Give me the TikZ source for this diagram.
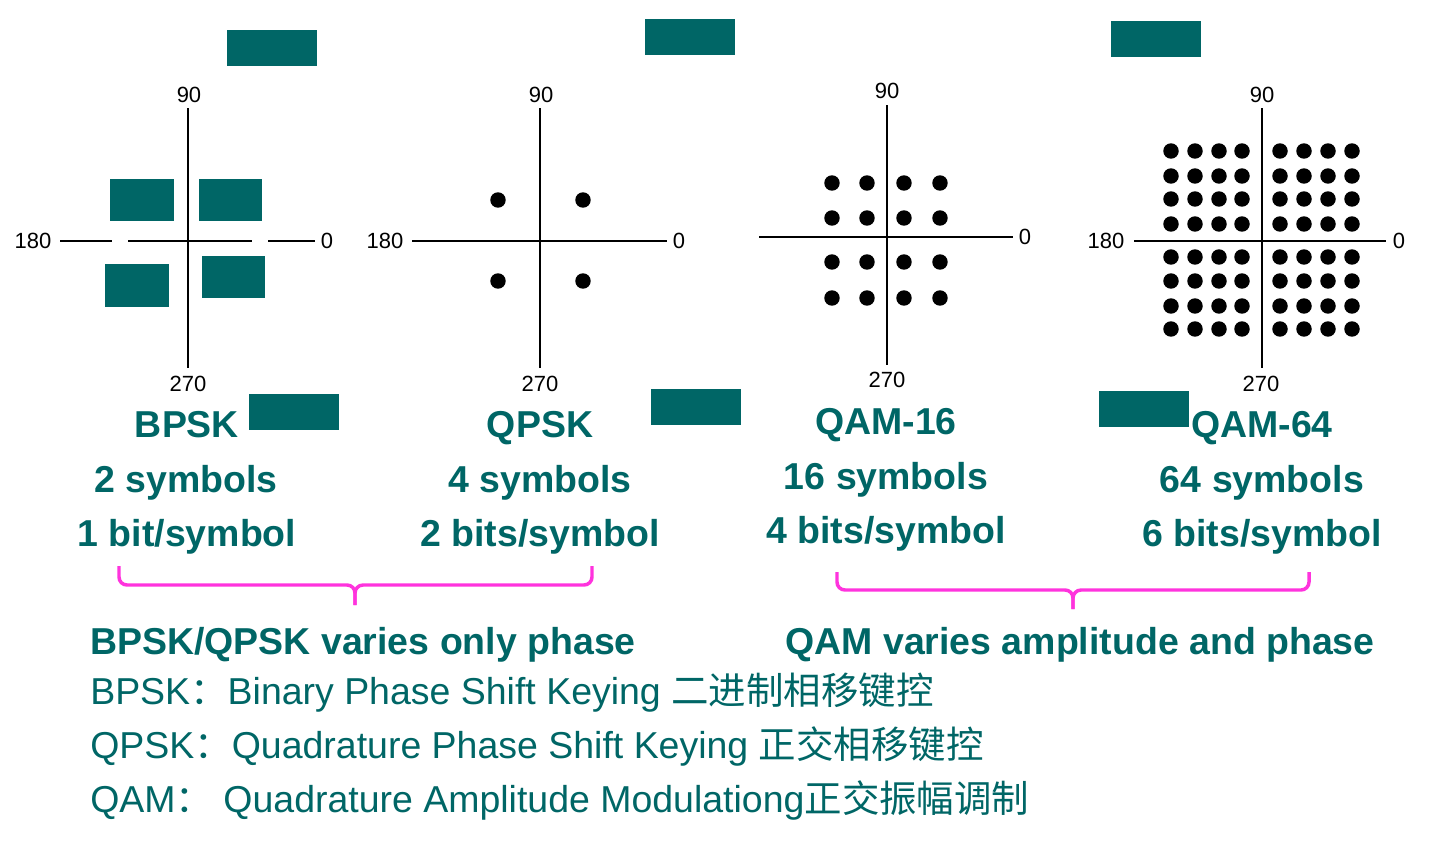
\documentclass[tikz,border=0pt]{standalone}
\usepackage{fontspec}
\setmainfont{Liberation Sans}
\newfontfamily\cjk{Noto Sans CJK SC}
\usetikzlibrary{positioning}
\definecolor{slideteal}{RGB}{0, 102, 102}
\definecolor{bracepink}{RGB}{255, 51, 221}

\tikzset{
  axisline/.style={line width=1.5pt, draw=black},
  axlabel/.style={font=\fontsize{16.5}{18}\selectfont, inner sep=0pt},
  cover/.style={fill=slideteal, draw=none},
  caption/.style={text=slideteal, font=\fontsize{28.1}{32}\selectfont\bfseries, inner sep=0pt, anchor=base},
  legend/.style={text=slideteal, font=\fontsize{28.1}{32}\selectfont, inner sep=0pt, anchor=base west},
  bracket/.style={draw=bracepink, line width=2.6pt, rounded corners=6pt}
}

\begin{document}
\begin{tikzpicture}[x=0.75pt, y=-0.75pt]
                \useasboundingbox (0,0) rectangle (1441,844);

                % BPSK constellation
                \draw[axisline] (188,108) -- (188,368);
                \draw[axisline] (60,241) -- (112,241) (128,241) -- (252,241) (268,241) -- (315,241);
                \node[axlabel] (bpsk90) at (189,95) {90};
                \node[axlabel] (bpsk180) at (33,241) {180};
                \node[axlabel] (bpsk0) at (327,241) {0};
                \node[axlabel] (bpsk270) at (188,384) {270};
                \fill[cover] (110,179) rectangle (174,221);
                \fill[cover] (199,179) rectangle (262,221);
                \fill[cover] (105,264) rectangle (169,307);
                \fill[cover] (202,256) rectangle (265,298);

                % QPSK constellation
                \draw[axisline] (540,108) -- (540,368);
                \draw[axisline] (412,241) -- (667,241);
                \node[axlabel] (qpsk90) at (541,95) {90};
                \node[axlabel] (qpsk180) at (385,241) {180};
                \node[axlabel] (qpsk0) at (679,241) {0};
                \node[axlabel] (qpsk270) at (540,384) {270};
                \foreach \px in {498,583}
                  \foreach \py in {200,281}
                    \fill (\px,\py) circle (5.8pt);

                % QAM-16 constellation
                \draw[axisline] (887,105) -- (887,365);
                \draw[axisline] (759,237) -- (1013,237);
                \node[axlabel] (qamA90) at (887,91) {90};
                \node[axlabel] (qamA0) at (1025,237) {0};
                \node[axlabel] (qamA270) at (887,380) {270};
                \foreach \px in {832,867,904,940}
                  \foreach \py in {183,218,262,298}
                    \fill (\px,\py) circle (5.8pt);

                % QAM-64 constellation
                \draw[axisline] (1262,108) -- (1262,368);
                \draw[axisline] (1134,241) -- (1386,241);
                \node[axlabel] (qamB90) at (1262,95) {90};
                \node[axlabel] (qamB180) at (1106,241) {180};
                \node[axlabel] (qamB0) at (1399,241) {0};
                \node[axlabel] (qamB270) at (1261,384) {270};
                \foreach \px in {1171,1195,1219,1242,1280,1304,1328,1352}
                  \foreach \py in {151,176,199,224,257,281,306,329}
                    \fill (\px,\py) circle (5.8pt);

                % Covered spots
                \fill[cover] (227,30) rectangle (317,66);
                \fill[cover] (645,19) rectangle (735,55);
                \fill[cover] (1111,21) rectangle (1201,57);
                \fill[cover] (249,394) rectangle (339,430);
                \fill[cover] (651,389) rectangle (741,425);
                \fill[cover] (1099,391) rectangle (1189,427);

                % Scheme captions
                \node[caption] (bpskname) at (187,437) {BPSK};
                \node[caption] (bpsksym) at (186,492) {2 symbols};
                \node[caption] (bpskbits) at (187,546) {1 bit/symbol};
                \node[caption] (qpskname) at (540,437) {QPSK};
                \node[caption] (qpsksym) at (540,492) {4 symbols};
                \node[caption] (qpskbits) at (540,546) {2 bits/symbol};
                \node[caption] (qamAname) at (886,434) {QAM-16};
                \node[caption] (qamAsym) at (886,489) {16 symbols};
                \node[caption] (qamAbits) at (886,543) {4 bits/symbol};
                \node[caption] (qamBname) at (1262,437) {QAM-64};
                \node[caption] (qamBsym) at (1262,492) {64 symbols};
                \node[caption] (qamBbits) at (1262,546) {6 bits/symbol};

                % Grouping brackets
                \draw[bracket] (119,566) |- (355,585) -- (355,605);
                \draw[bracket] (592,566) |- (355,585) -- (355,605);
                \draw[bracket] (837,572) |- (1073,590) -- (1073,609);
                \draw[bracket] (1309,572) |- (1073,590) -- (1073,609);
                \node[caption] (phasenote) at (363,654) {BPSK/QPSK varies only phase};
                \node[caption] (qamnote) at (1080,654) {QAM varies amplitude and phase};

                % Abbreviations
                \node[legend] (bpsklegend) at (90,704) {BPSK{\cjk ：}Binary Phase Shift Keying {\cjk 二进制相移键控}};
                \node[legend] (qpsklegend) at (90,758) {QPSK{\cjk ：}Quadrature Phase Shift Keying {\cjk 正交相移键控}};
                \node[legend] (qamlegend) at (90,812) {QAM{\cjk ：} Quadrature Amplitude Modulationg{\cjk 正交振幅调制}};
\end{tikzpicture}
\end{document}
